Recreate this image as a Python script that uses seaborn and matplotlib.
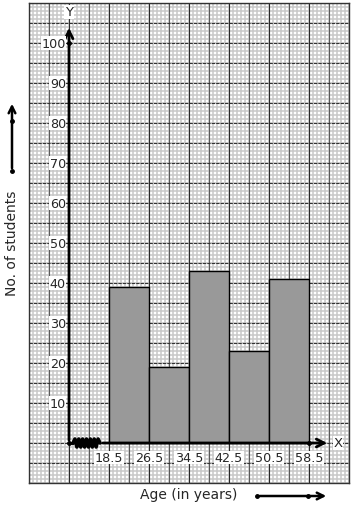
import numpy as np
import pandas as pd
import matplotlib
matplotlib.use("Agg")
import matplotlib.pyplot as plt
import seaborn as sns

# ---- data ----
class_edges = [18.5, 26.5, 34.5, 42.5, 50.5, 58.5]
students = [39, 19, 43, 23, 41]
y_ticks = [10, 20, 30, 40, 50, 60, 70, 80, 90, 100]
x_label = "Age (in years)"
y_label = "No. of students"

sns.set_style("white")
plt.rcParams['font.family'] = ['DejaVu Sans']

W, H = 354, 510
fig = plt.figure(figsize=(W / 100, H / 100), dpi=100)
ax = fig.add_axes([29 / W, (H - 484) / H, 320 / W, 480 / H])

x0, x1 = 2.5, 66.5
y0, y1 = -10, 110
ax.set_xlim(x0, x1)
ax.set_ylim(y0, y1)

# graph paper
for xv in np.arange(x0, x1 + 0.01, 0.8):
    ax.axvline(xv, color="#c8c8c8", lw=1.1, zorder=0)
for yv in np.arange(y0, y1 + 0.01, 1):
    ax.axhline(yv, color="#c8c8c8", lw=1.1, zorder=0)
for i, xv in enumerate(np.arange(x0, x1 + 0.01, 4)):
    ax.axvline(xv, color="#2a2a2a" if i % 2 == 0 else "#5a5a5a", lw=0.8, zorder=0.5)
for yv in np.arange(y0, y1 + 0.01, 5):
    ax.axhline(yv, color="#333333", lw=0.8, ls=(0, (3, 1)), zorder=0.5)

ax.set_xticks([])
ax.set_yticks([])
for s in ax.spines.values():
    s.set_color("#333333")
    s.set_linewidth(1.0)

# histogram
mids = [(a + b) / 2 for a, b in zip(class_edges[:-1], class_edges[1:])]
df = pd.DataFrame({"age": mids, "n": students})
sns.histplot(data=df, x="age", weights="n", bins=class_edges, ax=ax,
             color="#999999", edgecolor="black", linewidth=1.0, alpha=1.0, zorder=2)
ax.set_xlabel("")
ax.set_ylabel("")
ax.set_xlim(x0, x1)
ax.set_ylim(y0, y1)

ox = 10.5
# y axis
ax.annotate("", xy=(ox, 104.5), xytext=(ox, 0),
            arrowprops=dict(arrowstyle="->", lw=2.0, color="black", mutation_scale=14), zorder=4)
ax.text(ox, 107.8, "Y", ha="center", va="center", fontsize=9.5,
        bbox=dict(facecolor="white", edgecolor="none", pad=0.5), zorder=5)
# x axis with break
ax.plot([ox, 11.3], [0, 0], color="black", lw=2.0, zorder=4)
zx = np.linspace(11.3, 16.7, 15)
zy = np.array([0] + [(-1) ** k * 1.0 for k in range(13)] + [0])
ax.plot(zx, zy, color="black", lw=2.6, zorder=4)
ax.annotate("", xy=(62.7, 0), xytext=(16.7, 0),
            arrowprops=dict(arrowstyle="->", lw=2.0, color="black", mutation_scale=14), zorder=4)
ax.text(64.3, 0, "X", ha="center", va="center", fontsize=9.5,
        bbox=dict(facecolor="white", edgecolor="none", pad=0.5), zorder=5)
ax.plot([ox, ox, class_edges[-1]], [0, 100, 0], "o", color="black", ms=2.5, zorder=5)

# tick labels
for t in y_ticks:
    ax.text(ox - 0.6, t, f"{t}", ha="right", va="center", fontsize=9.2,
            bbox=dict(facecolor="white", edgecolor="none", pad=0.3), zorder=5)
for e in class_edges:
    ax.text(e, -3.6, f"{e}", ha="center", va="center", fontsize=9.2,
            bbox=dict(facecolor="white", edgecolor="none", pad=0.3), zorder=5)

# outer labels and arrows
fig.text(12 / W, 1 - 243 / H, y_label, rotation=90, ha="center", va="center", fontsize=10)
fig.text(189 / W, 1 - 495 / H, x_label, ha="center", va="center", fontsize=10)
fig.add_artist(matplotlib.patches.FancyArrowPatch((12 / W, 1 - 172 / H), (12 / W, 1 - 102 / H),
               transform=fig.transFigure, arrowstyle="->", lw=1.8, color="black", mutation_scale=12))
fig.add_artist(matplotlib.patches.FancyArrowPatch((257 / W, 1 - 497 / H), (329 / W, 1 - 497 / H),
               transform=fig.transFigure, arrowstyle="->", lw=1.8, color="black", mutation_scale=12))
for (px, py) in [(12, 172), (12, 122), (257, 497), (308, 497)]:
    fig.add_artist(matplotlib.lines.Line2D([px / W], [1 - py / H], marker="o", ms=2.5,
                   color="black", transform=fig.transFigure))

fig.savefig("out.png", dpi=100)
